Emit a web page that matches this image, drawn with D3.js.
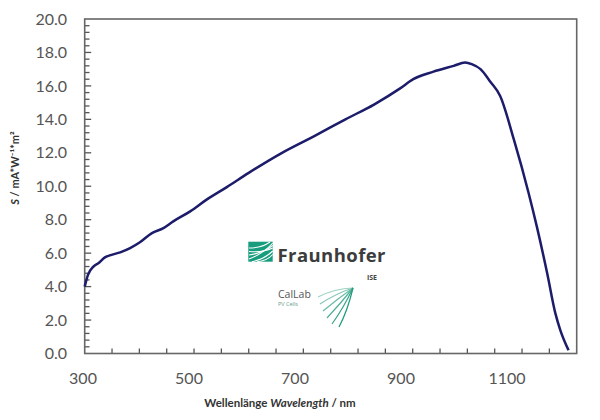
<!DOCTYPE html>
<html><head><meta charset="utf-8">
<script src="https://cdn.jsdelivr.net/npm/d3@7"></script>
<style>body{margin:0;background:#fff;} svg{display:block;}</style>
</head><body>
<script>
// Data (wavelength in nm, spectral responsivity S)
const wavelength = [300,306,316,325,337,349,365,383,401,423,444,462,493,523,560,600,661,720,777,830,877,901,938,975,996,1008,1024,1042,1060,1085,1112,1127,1146,1161,1170,1185];
const response   = [4.0,4.7,5.2,5.4,5.75,5.9,6.05,6.3,6.65,7.2,7.5,7.9,8.5,9.2,9.95,10.8,12.0,13.0,14.0,14.9,15.85,16.4,16.85,17.2,17.4,17.3,17.0,16.25,15.4,12.8,9.6,7.6,4.8,2.4,1.4,0.2];
const xTickLabels = [300,500,700,900,1100];
const yTickLabels = [0,2,4,6,8,10,12,14,16,18,20];

const W = 600, H = 420;
const svg = d3.select("body").append("svg").attr("width",W).attr("height",H);
const L = 84.7, R = 576.7, T = 19, B = 353.5;

const x = d3.scaleLinear().domain([300,1200]).range([L,R]);
const xLab = d3.scaleLinear().domain([300,1200]).range([83,560]);
const y = d3.scaleLinear().domain([0,20]).range([B,T]);

const font = "Lato, 'Open Sans', 'Liberation Sans', sans-serif";

// x ticks every 50 (inside)
svg.append("g").selectAll("line").data(d3.range(350,1200,50)).join("line")
  .attr("x1",d=>x(d)).attr("x2",d=>x(d)).attr("y1",B).attr("y2",B-5)
  .attr("stroke","#555").attr("stroke-width",1.3);
// y ticks: minor every 0.4, major every 2
svg.append("g").selectAll("line").data(d3.range(1,50).map(i=>i*0.4)).join("line")
  .attr("x1",L).attr("x2",d=>L+(Math.abs(d/2-Math.round(d/2))<1e-6?6.5:4.8))
  .attr("y1",d=>y(d)).attr("y2",d=>y(d))
  .attr("stroke","#555").attr("stroke-width",1.3);

// frame
svg.append("rect").attr("x",L).attr("y",T).attr("width",R-L).attr("height",B-T)
  .attr("fill","none").attr("stroke","#666").attr("stroke-width",1.6);

// tick labels
svg.append("g").selectAll("text").data(xTickLabels).join("text")
  .attr("x",d=>xLab(d)).attr("y",384).attr("text-anchor","middle")
  .attr("font-family",font).attr("font-size",16).attr("fill","#555")
  .text(d=>d);
svg.append("g").selectAll("text").data(yTickLabels).join("text")
  .attr("x",67).attr("y",d=>y(d)).attr("dy","0.35em").attr("text-anchor","end")
  .attr("font-family",font).attr("font-size",16).attr("fill","#555")
  .text(d=>d3.format(".1f")(d));

// axis titles
const xt = svg.append("text").attr("x",280).attr("y",407).attr("text-anchor","middle")
  .attr("font-family",font).attr("font-size",11.5).attr("font-weight","bold").attr("fill","#333");
xt.append("tspan").text("Wellenlänge ");
xt.append("tspan").attr("font-style","italic").text("Wavelength");
xt.append("tspan").text(" / nm");

const yt = svg.append("text").attr("transform","translate(19,168) rotate(-90)").attr("text-anchor","middle")
  .attr("font-family",font).attr("font-size",11).attr("font-weight","bold").attr("fill","#333");
yt.append("tspan").attr("font-style","italic").text("S");
yt.append("tspan").text(" / mA*W⁻¹*m²");

// logo
const logo = svg.append("g");
logo.append("rect").attr("x",248.3).attr("y",241.7).attr("width",24.4).attr("height",20).attr("fill","#179c7d");
const lp = logo.append("g").attr("stroke","#fff").attr("fill","none").attr("stroke-width",1.1);
[[249,259,272.7,243],[249,255,272.7,245.5],[249,251.5,272.7,248],[249,248,270,242],[252,261.7,272.7,251],[257,261.7,272.7,254.5]].forEach(p=>{
  lp.append("path").attr("d",`M${p[0]},${p[1]} Q${(p[0]+p[2])/2+2},${(p[1]+p[3])/2+3} ${p[2]},${p[3]}`);
});
logo.append("text").attr("x",277.5).attr("y",261.7).attr("font-family","'Open Sans', Lato, sans-serif")
  .attr("font-weight","bold").attr("font-size",18.5).attr("fill","#3c3c3c").attr("textLength",108).text("Fraunhofer");
logo.append("text").attr("x",377).attr("y",280).attr("text-anchor","end").attr("font-family","'Open Sans', sans-serif")
  .attr("font-weight","bold").attr("font-size",7).attr("fill","#444").text("ISE");
logo.append("text").attr("x",278).attr("y",297.5).attr("font-family","'Open Sans', sans-serif")
  .attr("font-size",10.5).attr("fill","#555").text("CalLab");
logo.append("text").attr("x",278).attr("y",306).attr("font-family","'Open Sans', sans-serif")
  .attr("font-size",5.5).attr("fill","#6a9a8c").text("PV Cells");
const fan = logo.append("g").attr("fill","none").attr("stroke-width",1.2);
const fanEnds = [[318,297],[320,304],[323,311],[327,318],[332,324],[339,327]];
fanEnds.forEach((e,i)=>{
  fan.append("path").attr("d",`M${e[0]},${e[1]} Q${(e[0]+353)/2 - 1 + i*0.5},${(e[1]+288)/2 - 4 + i*1.5} 353,288`)
    .attr("stroke", d3.interpolateRgb("#9fd2c2","#1f9a7c")(i/5));
});

// curve
const line = d3.line().x((d,i)=>x(wavelength[i])).y(d=>y(d)).curve(d3.curveMonotoneX);
svg.append("path").datum(response).attr("d",line)
  .attr("fill","none").attr("stroke","#1c1c6a").attr("stroke-width",2.5).attr("stroke-linejoin","round");
</script>
</body></html>
